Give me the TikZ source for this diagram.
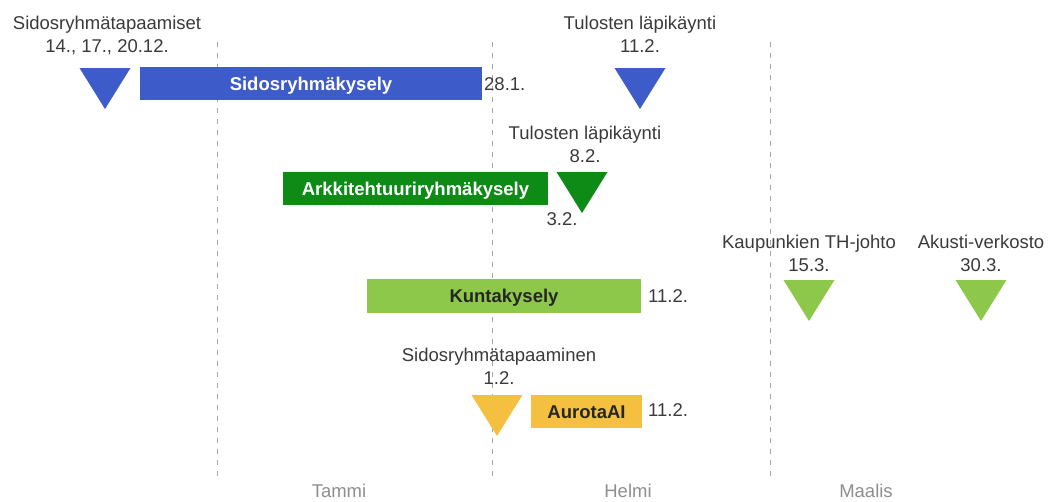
\documentclass[tikz,border=0pt]{standalone}
\usepackage{fontspec}
\setmainfont{Liberation Sans}
\definecolor{cblue}{HTML}{3D5BC9}
\definecolor{cdgreen}{HTML}{0E8A16}
\definecolor{clgreen}{HTML}{8DC84A}
\definecolor{cyellow}{HTML}{F5BF3F}
\definecolor{ctext}{HTML}{3A3A3A}
\definecolor{cmonth}{HTML}{8E8E8E}
\definecolor{cdash}{HTML}{A8A8A8}
\tikzset{
  lbl/.style={font=\fontsize{18.5}{23}\selectfont, text=ctext, align=center, inner sep=0pt},
  month/.style={font=\fontsize{18.5}{23}\selectfont, text=cmonth, inner sep=0pt},
  bar/.style={inner sep=0pt, text height=13.3pt, text depth=0pt, font=\fontsize{18.5}{23}\selectfont\bfseries},
  divider/.style={draw=cdash, line width=1pt, dash pattern=on 5pt off 6pt},
}
\newcommand{\tri}[4]{\fill[#1] (#2-25.5,#3) -- (#2+25.5,#3) -- (#2,#4) -- cycle;}
\begin{document}
\begin{tikzpicture}[x=1pt,y=-1pt]
\useasboundingbox (0,0) rectangle (1049,501);
% dividers
\coordinate (d1t) at (217,42); \coordinate (d1b) at (217,476);
\coordinate (d2t) at (492,42); \coordinate (d2b) at (492,476);
\coordinate (d3t) at (770,42); \coordinate (d3b) at (770,476);
\draw[divider] (d1t) -- (d1b);
\draw[divider] (d2t) -- (d2b);
\draw[divider] (d3t) -- (d3b);
% months
\node[month] (m1) at (339,491) {Tammi};
\node[month] (m2) at (628,491) {Helmi};
\node[month] (m3) at (866,491) {Maalis};
% row 1
\node[lbl] (l1) at (107,35) {Sidosryhmätapaamiset\\14., 17., 20.12.};
\tri{cblue}{105}{68}{109}
\node[bar, fill=cblue, text=white, minimum width=342pt, minimum height=33pt] (b1) at (311,83.5) {Sidosryhmäkysely};
\node[lbl, anchor=west] (e1) at (484,84) {28.1.};
\node[lbl] (l2) at (640,34.5) {Tulosten läpikäynti\\11.2.};
\tri{cblue}{640}{68}{109}
% row 2
\node[lbl] (l3) at (585,144.5) {Tulosten läpikäynti\\8.2.};
\tri{cdgreen}{582}{172}{213}
\node[bar, fill=cdgreen, text=white, minimum width=265pt, minimum height=33pt] (b2) at (415.5,188.5) {Arkkitehtuuriryhmäkysely};
\node[lbl] (e2) at (562,219) {3.2.};
% row 3
\node[bar, fill=clgreen, text=black!85, minimum width=274pt, minimum height=34pt] (b3) at (504,296) {Kuntakysely};
\node[lbl, anchor=west] (e3) at (648,296) {11.2.};
\node[lbl] (l4) at (809,253.5) {Kaupunkien TH-johto\\15.3.};
\tri{clgreen}{809}{280}{321}
\node[lbl] (l5) at (981,253.5) {Akusti-verkosto\\30.3.};
\tri{clgreen}{981}{280}{321}
% row 4
\node[lbl] (l6) at (499,366.5) {Sidosryhmätapaaminen\\1.2.};
\tri{cyellow}{497}{395}{436}
\node[bar, fill=cyellow, text=black!85, minimum width=111pt, minimum height=33pt] (b4) at (586.5,411.5) {AurotaAI};
\node[lbl, anchor=west] (e4) at (648,410) {11.2.};
\end{tikzpicture}
\end{document}
